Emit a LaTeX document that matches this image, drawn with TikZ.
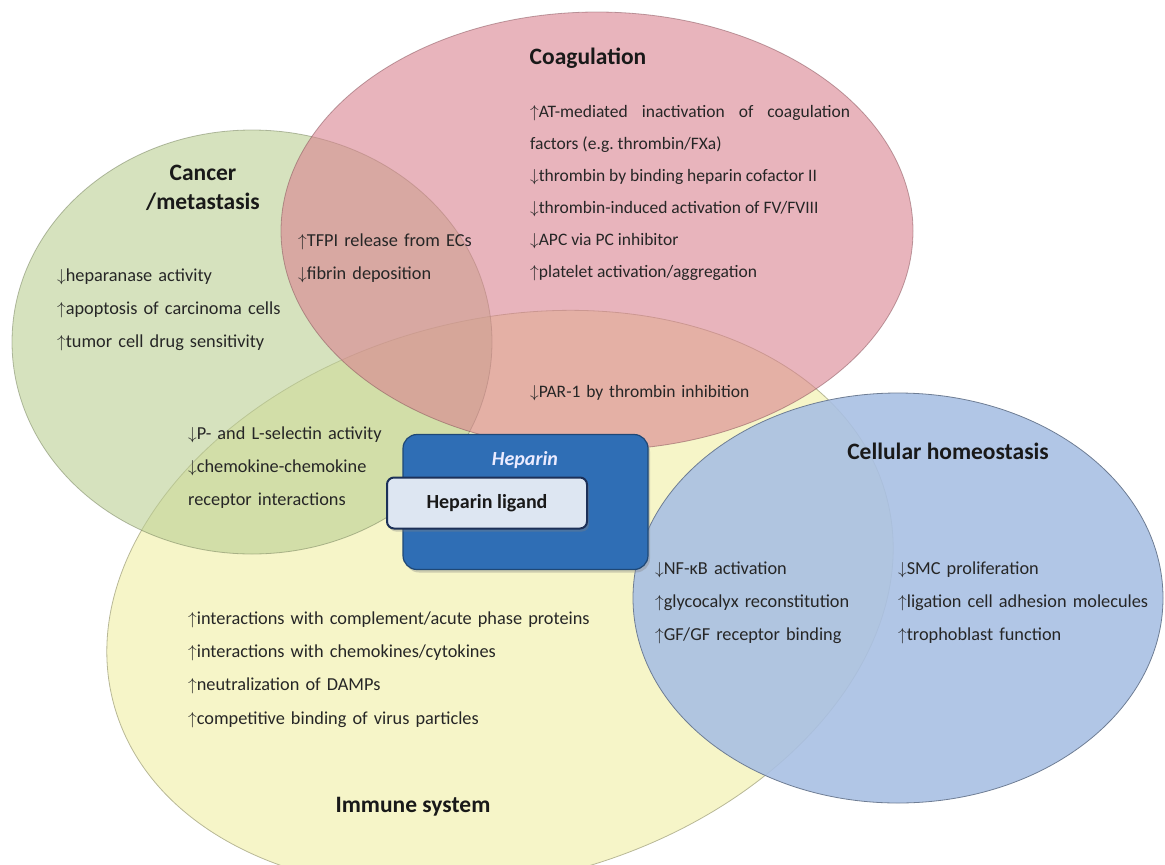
\documentclass[tikz,border=0pt]{standalone}
\usepackage{fontspec}
\setmainfont{Carlito}
\usetikzlibrary{shadows}
\definecolor{coagpink}{RGB}{217,130,143}
\definecolor{cancergreen}{RGB}{187,207,147}
\definecolor{immuneyellow}{RGB}{246,245,200}
\definecolor{cellblue}{RGB}{169,192,227}
\definecolor{hepblue}{RGB}{47,110,181}
\definecolor{ligandgrey}{RGB}{221,230,242}
\definecolor{navy}{RGB}{28,48,88}
\newcommand{\incr}{$\uparrow$}
\newcommand{\decr}{$\downarrow$}
\tikzset{
  region/.style={fill opacity=0.6, draw opacity=0.5, line width=0.8pt},
  heading/.style={font=\fontsize{23.5}{29}\selectfont\bfseries, anchor=base, align=center, inner sep=0pt, text=black!90},
  effects/.style={font=\fontsize{18.3}{33.4}\selectfont, anchor=base west, text width=440pt, align=left, inner sep=0pt, text=black!85},
  hepouter/.style={rounded corners=14pt, fill=hepblue, draw=hepblue!65!black, line width=1.2pt, drop shadow={opacity=0.35, shadow xshift=2pt, shadow yshift=-3pt}},
  hepinner/.style={rounded corners=7pt, fill=ligandgrey, draw=navy, line width=2pt, drop shadow={opacity=0.35, shadow xshift=2pt, shadow yshift=-3pt}, font=\fontsize{20}{24}\selectfont\bfseries, text=black!90}
}

\begin{document}
\begin{tikzpicture}[x=1pt,y=-1pt]
    \useasboundingbox (0,0) rectangle (1165,865);

    \filldraw[fill=immuneyellow, draw=immuneyellow!75!black, line width=0.8pt, rotate around={15:(500,600)}] (500,600) ellipse [x radius=400pt, y radius=280pt];
    \filldraw[region, fill=cancergreen, draw=cancergreen!60!black] (252,342) ellipse [x radius=240pt, y radius=212pt];
    \filldraw[region, fill=coagpink, draw=coagpink!60!black] (597,231) ellipse [x radius=316pt, y radius=219pt];
    \filldraw[fill=cellblue, fill opacity=0.9, draw=cellblue!65!black, line width=0.8pt] (898,598) ellipse [x radius=265pt, y radius=205pt];

    \node[hepouter, minimum width=245pt, minimum height=135pt] (heparin) at (525.5,502) {};
    \node[font=\fontsize{20}{24}\selectfont\bfseries\itshape, text=white!92!blue] (heptitle) at (525,460) {Heparin};
    \node[hepinner, minimum width=200pt, minimum height=51pt] (ligand) at (487,503) {Heparin ligand};

    \node[heading] (coagtitle) at (588,64) {Coagulation};
    \node[heading] (cancertitle) at (203,209.5) {Cancer\\/metastasis};
    \node[heading] (celltitle) at (948,459) {Cellular homeostasis};
    \node[heading] (immunetitle) at (413,812) {Immune system};

    \node[effects, font=\fontsize{17.5}{32}\selectfont, text width=320pt, align=justify] (coaglist) at (530,117) {\incr AT-mediated inactivation of coagulation\linebreak factors (e.g.\ thrombin/FXa)\\\decr thrombin by binding heparin cofactor II\\\decr thrombin-induced activation of FV/FVIII\\\decr APC via PC inhibitor\\\incr platelet activation/aggregation};
    \node[effects, font=\fontsize{17.5}{32}\selectfont] (par) at (530,397) {\decr PAR-1 by thrombin inhibition};
    \node[effects] (tfpi) at (298,246) {\incr TFPI release from ECs\\\decr fibrin deposition};
    \node[effects] (cancerlist) at (57,281) {\decr heparanase activity\\\incr apoptosis of carcinoma cells\\\incr tumor cell drug sensitivity};
    \node[effects] (selectin) at (188,439) {\decr P- and L-selectin activity\\\decr chemokine-chemokine\\receptor interactions};
    \node[effects] (immunelist) at (188,624) {\incr interactions with complement/acute phase proteins\\\incr interactions with chemokines/cytokines\\\incr neutralization of DAMPs\\\incr competitive binding of virus particles};
    \node[effects] (nfkb) at (655,574) {\decr NF-κB activation\\\incr glycocalyx reconstitution\\\incr GF/GF receptor binding};
    \node[effects] (smc) at (898,574) {\decr SMC proliferation\\\incr ligation cell adhesion molecules\\\incr trophoblast function};
\end{tikzpicture}
\end{document}
